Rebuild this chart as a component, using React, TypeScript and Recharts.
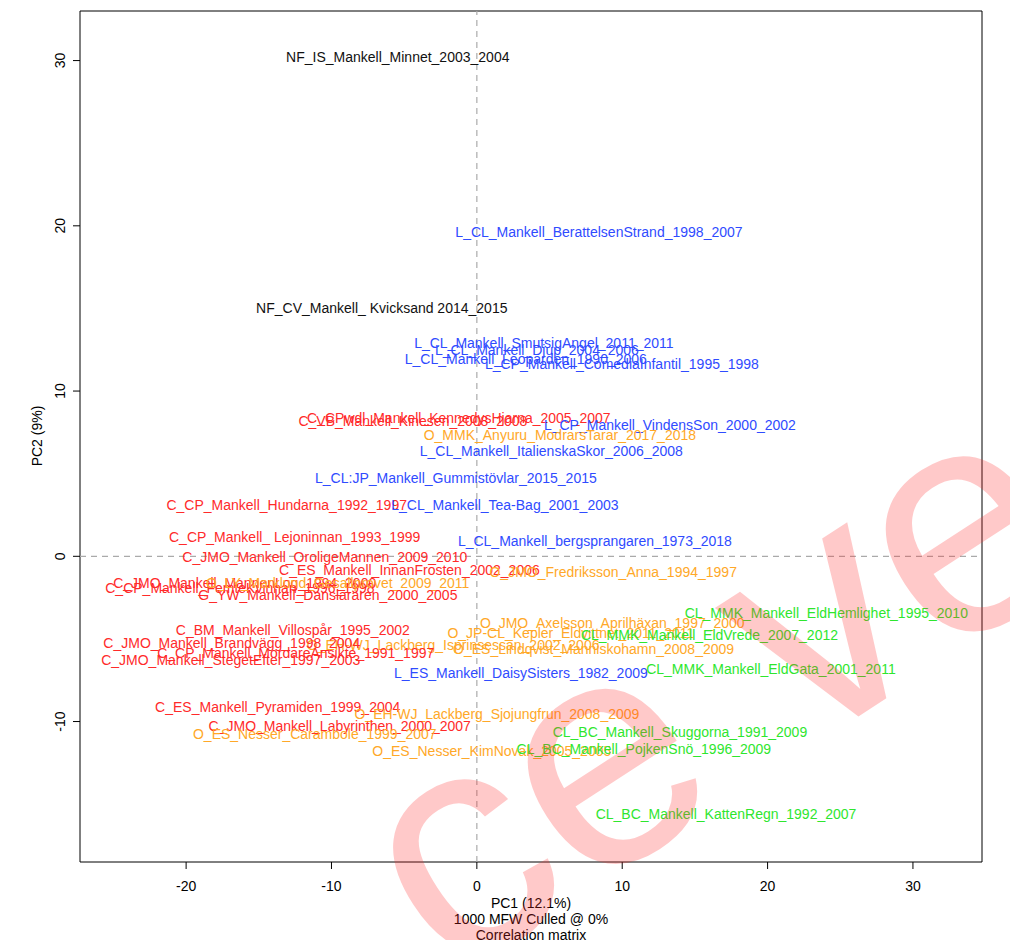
import React from "react";
import {
  ScatterChart,
  Scatter,
  XAxis,
  YAxis,
  ReferenceLine,
  ReferenceArea,
  Label,
} from "recharts";

// text labels, one per sample, with their PC1 / PC2 scores
const samples = [
  "NF_IS_Mankell_Minnet_2003_2004",
  "L_CL_Mankell_BerattelsenStrand_1998_2007",
  "NF_CV_Mankell_ Kvicksand 2014_2015",
  "L_CL_Mankell_SmutsigAngel_2011_2011",
  "L_CL_Mankell_Djup_2004_2006",
  "L_CL_Mankell_Leoparden_1990_2006",
  "L_CP_Mankell_ComediaInfantil_1995_1998",
  "C_CPwdl_Mankell_KennedysHjarna_2005_2007",
  "C_VB_Mankell_Kinesen_2008_2008",
  "L_CP_Mankell_VindensSon_2000_2002",
  "O_MMK_Anyuru_ModrarsTarar_2017_2018",
  "L_CL_Mankell_ItalienskaSkor_2006_2008",
  "L_CL:JP_Mankell_Gummistövlar_2015_2015",
  "C_CP_Mankell_Hundarna_1992_1997",
  "L_CL_Mankell_Tea-Bag_2001_2003",
  "C_CP_Mankell_ Lejoninnan_1993_1999",
  "L_CL_Mankell_bergsprangaren_1973_2018",
  "C_JMO_Mankell_OroligeMannen_2009_2010",
  "C_ES_Mankell_InnanFrosten_2002_2006",
  "O_JMO_Fredriksson_Anna_1994_1997",
  "C_JMO_Mankell_MannenLog_1994_2000",
  "C_CP_Mankell_FemteKvinnan_1996_1998",
  "O_LY_Marklund_Gesallprovet_2009_2011",
  "G_YW_Mankell_Danslararen_2000_2005",
  "O_JMO_Axelsson_Aprilhäxan_1997_2000",
  "CL_MMK_Mankell_EldHemlighet_1995_2010",
  "O_JP-CL_Kepler_Eldvittnet_2011_2011",
  "CL_MMK_Mankell_EldVrede_2007_2012",
  "O_ES_Lindqvist_Manniskohamn_2008_2009",
  "O_EH-WJ_Lackberg_Isprinsessan_2002_2006",
  "C_BM_Mankell_Villospår_1995_2002",
  "C_JMO_Mankell_Brandvägg_1998_2004",
  "C_CP_Mankell_MordareAnsikte_1991_1997",
  "C_JMO_Mankell_StegetEfter_1997_2003",
  "L_ES_Mankell_DaisySisters_1982_2009",
  "CL_MMK_Mankell_EldGata_2001_2011",
  "C_ES_Mankell_Pyramiden_1999_2004",
  "O_EH-WJ_Lackberg_Sjojungfrun_2008_2009",
  "C_JMO_Mankell_Labyrinthen_2000_2007",
  "O_ES_Nesser_Carambole_1999_2007",
  "O_ES_Nesser_KimNovak_2005_2005",
  "CL_BC_Mankell_Skuggorna_1991_2009",
  "CL_BC_Mankell_PojkenSnö_1996_2009",
  "CL_BC_Mankell_KattenRegn_1992_2007",
];

const pc1 = [
  -5.44, 8.4, -6.54, 4.61, 4.13, 3.37, 9.98, -1.24, -4.4, 13.28, 5.71, 5.12,
  -1.44, -13.08, 1.93, -12.53, 8.12, -10.46, -4.64, 9.38, -15.97, -16.3, -9.57,
  -10.25, 9.32, 24.04, 6.47, 16.0, 8.03, -1.63, -12.66, -16.86, -12.46, -16.93,
  3.03, 20.23, -13.7, 1.38, -9.43, -11.15, 1.03, 13.97, 11.49, 17.14,
];

const pc2 = [
  30.24, 19.64, 15.03, 12.91, 12.48, 11.94, 11.64, 8.36, 8.18, 7.94, 7.33, 6.36,
  4.73, 3.09, 3.09, 1.15, 0.91, -0.06, -0.85, -0.97, -1.64, -1.94, -1.64, -2.36,
  -4.06, -3.45, -4.67, -4.79, -5.58, -5.39, -4.48, -5.27, -5.88, -6.3, -7.09,
  -6.79, -9.09, -9.52, -10.24, -10.73, -11.76, -10.61, -11.64, -15.58,
];

const xTicks = [-20, -10, 0, 10, 20, 30];
const yTicks = [-10, 0, 10, 20, 30];
const xDomain: [number, number] = [-27.3, 34.75];
const yDomain: [number, number] = [-18.5, 33];

const groupColors: Record<string, string> = {
  C: "#ff2a2a",
  G: "#ff2a2a",
  L: "#2f4bff",
  O: "#ffa828",
  CL: "#2ee62e",
  NF: "#111111",
};

const points = samples.map((name, i) => ({
  name,
  x: pc1[i],
  y: pc2[i],
  color: groupColors[name.split("_")[0]] || "#000",
}));

const axisFont = "'Liberation Sans', Arial, sans-serif";

const SampleLabel = (props: any) => {
  const { cx, cy, payload } = props;
  return (
    <text
      x={cx}
      y={cy}
      textAnchor="middle"
      dominantBaseline="central"
      fontFamily="'Liberation Sans', Arial, sans-serif"
      fontSize={14}
      fill={payload.color}
    >
      {payload.name}
    </text>
  );
};

const XTick = (props: any) => {
  const { x, payload } = props;
  return (
    <text x={x} y={878} textAnchor="middle" dominantBaseline="central" fontFamily={axisFont} fontSize={14} fill="#000">
      {payload.value}
    </text>
  );
};

const YTick = (props: any) => {
  const { y, payload } = props;
  return (
    <g transform={`translate(52, ${y}) rotate(-90)`}>
      <text textAnchor="middle" dominantBaseline="central" fontFamily={axisFont} fontSize={14} fill="#000">
        {payload.value}
      </text>
    </g>
  );
};

export default function App() {
  return (
    <div style={{ position: "relative", width: 1010, height: 932 }}>
      <ScatterChart width={1010} height={932} margin={{ top: 3, right: 36, bottom: 0, left: 0 }}>
        <XAxis
          type="number"
          dataKey="x"
          domain={xDomain}
          ticks={xTicks}
          allowDataOverflow
          height={78}
          axisLine={false}
          tickSize={7}
          tickLine={{ stroke: "#000" }}
          tick={<XTick />}
          interval={0}
        >
          <Label value="PC1 (12.1%)" position="insideTop" offset={36} fontFamily={axisFont} fontSize={14} fill="#000" />
          <Label value="1000 MFW  Culled @ 0%" position="insideTop" offset={52} fontFamily={axisFont} fontSize={14} fill="#000" />
          <Label value="Correlation matrix" position="insideTop" offset={68} fontFamily={axisFont} fontSize={14} fill="#000" />
        </XAxis>
        <YAxis
          type="number"
          dataKey="y"
          domain={yDomain}
          ticks={yTicks}
          allowDataOverflow
          width={72}
          axisLine={false}
          tickSize={7}
          tickLine={{ stroke: "#000" }}
          tick={<YTick />}
          interval={0}
        >
          <Label
            content={() => (
              <g transform="translate(29, 428) rotate(-90)">
                <text textAnchor="middle" dominantBaseline="central" fontFamily={axisFont} fontSize={14} fill="#000">
                  PC2 (9%)
                </text>
              </g>
            )}
          />
        </YAxis>
        <ReferenceArea
          x1={xDomain[0]}
          x2={xDomain[1]}
          y1={yDomain[0]}
          y2={yDomain[1]}
          fill="none"
          stroke="#000"
          strokeWidth={1}
        />
        <ReferenceLine x={0} stroke="#aaaaaa" strokeDasharray="6 5" strokeWidth={1.2} />
        <ReferenceLine y={0} stroke="#aaaaaa" strokeDasharray="6 5" strokeWidth={1.2} />
        <Scatter data={points} shape={SampleLabel} isAnimationActive={false} />
      </ScatterChart>
      <svg
        width={1010}
        height={932}
        style={{ position: "absolute", left: 0, top: 0, pointerEvents: "none" }}
      >
        <text
          x={440}
          y={975}
          transform="rotate(-33, 440, 975)"
          fontFamily="'Liberation Sans', Arial, sans-serif"
          fontSize={320}
          fill="rgba(255,40,40,0.25)"
        >
          ce version
        </text>
      </svg>
    </div>
  );
}
